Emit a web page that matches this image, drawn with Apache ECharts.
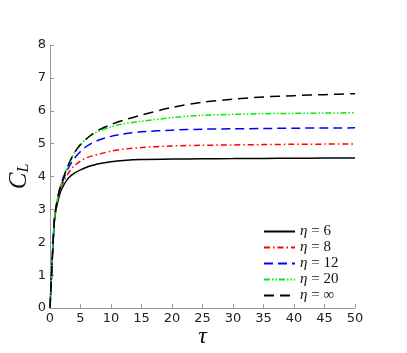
<!DOCTYPE html>
<html>
<head>
<meta charset="utf-8">
<script src="https://cdn.jsdelivr.net/npm/echarts@6/dist/echarts.min.js"></script>
<style>
  html, body { margin: 0; padding: 0; background: #fff; }
  #chart { width: 407px; height: 353px; }
</style>
</head>
<body>
<div id="chart"></div>
<script>
// tau samples
var tau = [0, 0.25, 0.5, 0.75, 1, 1.5, 2, 3, 4, 5, 6, 7, 8, 10, 12, 15, 20, 25, 30, 35, 40, 45, 50];

// C_L per eta
var eta6 = [0, 1.0, 1.95, 2.7, 3.0, 3.4, 3.65, 3.95, 4.1, 4.2, 4.28, 4.34, 4.39, 4.45, 4.49, 4.52, 4.53, 4.54, 4.545, 4.55, 4.555, 4.56, 4.565];
var eta8 = [0, 1.0, 1.97, 2.72, 3.05, 3.47, 3.75, 4.1, 4.33, 4.47, 4.57, 4.63, 4.68, 4.77, 4.83, 4.88, 4.93, 4.95, 4.96, 4.97, 4.98, 4.985, 4.99];
var eta12 = [0, 1.0, 1.98, 2.74, 3.08, 3.52, 3.82, 4.25, 4.55, 4.76, 4.92, 5.03, 5.11, 5.22, 5.29, 5.36, 5.41, 5.44, 5.45, 5.46, 5.47, 5.475, 5.48];
var eta20 = [0, 1.0, 1.99, 2.76, 3.1, 3.56, 3.87, 4.35, 4.72, 4.97, 5.15, 5.28, 5.38, 5.51, 5.6, 5.68, 5.79, 5.86, 5.89, 5.91, 5.92, 5.93, 5.94];
var etaInf = [0, 1.0, 1.99, 2.76, 3.1, 3.56, 3.87, 4.35, 4.72, 4.97, 5.15, 5.3, 5.42, 5.58, 5.71, 5.87, 6.1, 6.26, 6.35, 6.42, 6.46, 6.49, 6.52];

var xTicks = [0, 50, 5];
var yTicks = [0, 8, 1];

function pairs(ys) {
  return tau.map(function (t, i) { return [t, ys[i]]; });
}

function makeLine(name, ys, color, dash) {
  return {
    name: name,
    type: 'line',
    data: pairs(ys),
    smooth: 0.3,
    symbol: 'none',
    lineStyle: { color: color, width: 1.5, type: dash },
    itemStyle: { color: color }
  };
}

var chart = echarts.init(document.getElementById('chart'));

var axisGray = '#999999';
var labelFont = { color: '#222', fontSize: 13, fontFamily: 'DejaVu Sans' };

var option = {
  animation: false,
  grid: { left: 50, right: 52, top: 45, bottom: 45, containLabel: false, outerBoundsMode: 'none' },
  legend: {
    orient: 'vertical',
    left: 258,
    top: 219,
    width: 130,
    height: 110,
    itemWidth: 31,
    itemHeight: 12,
    itemGap: 1,
    data: ['6', '8', '12', '20', '∞'],
    itemStyle: { opacity: 0 },
    formatter: function (n) { return '{i|η} = ' + n; },
    textStyle: {
      fontFamily: 'Liberation Serif',
      fontSize: 15,
      color: '#111',
      lineHeight: 12,
      rich: { i: { fontStyle: 'italic', fontFamily: 'Liberation Serif', fontSize: 15, lineHeight: 12 } }
    }
  },
  xAxis: {
    type: 'value',
    min: xTicks[0], max: xTicks[1], interval: xTicks[2],
    name: 'τ',
    nameLocation: 'middle',
    nameGap: 17,
    nameMoveOverlap: false,
    nameTextStyle: { fontFamily: 'Liberation Serif', fontStyle: 'italic', fontSize: 24, color: '#111' },
    axisLine: { lineStyle: { color: axisGray, width: 1 } },
    axisTick: { inside: true, length: 4, lineStyle: { color: axisGray } },
    axisLabel: Object.assign({ margin: 4 }, labelFont),
    splitLine: { show: false }
  },
  yAxis: {
    type: 'value',
    min: yTicks[0], max: yTicks[1], interval: yTicks[2],
    name: '{c|C}{l|L}',
    nameLocation: 'middle',
    nameGap: 18,
    nameMoveOverlap: false,
    nameRotate: 90,
    nameTextStyle: {
      color: '#111',
      rich: {
        c: { fontFamily: 'Liberation Serif', fontStyle: 'italic', fontSize: 25, color: '#111', verticalAlign: 'bottom', lineHeight: 24 },
        l: { fontFamily: 'Liberation Serif', fontStyle: 'italic', fontSize: 16, color: '#111', verticalAlign: 'bottom', lineHeight: 24, padding: [6, 0, 0, 0] }
      }
    },
    axisLine: { show: true, lineStyle: { color: axisGray, width: 1 } },
    axisTick: { show: true, inside: true, length: 4, lineStyle: { color: axisGray } },
    axisLabel: Object.assign({ margin: 4 }, labelFont),
    splitLine: { show: false }
  },
  series: [
    makeLine('6', eta6, '#000000', 'solid'),
    makeLine('8', eta8, '#ff0000', [6, 3, 1.5, 3]),
    makeLine('12', eta12, '#0000ff', [9, 5]),
    makeLine('20', eta20, '#00ee00', [6, 2, 1.5, 2, 1.5, 2]),
    makeLine('∞', etaInf, '#000000', [10, 6])
  ]
};

chart.setOption(option);
</script>
</body>
</html>
